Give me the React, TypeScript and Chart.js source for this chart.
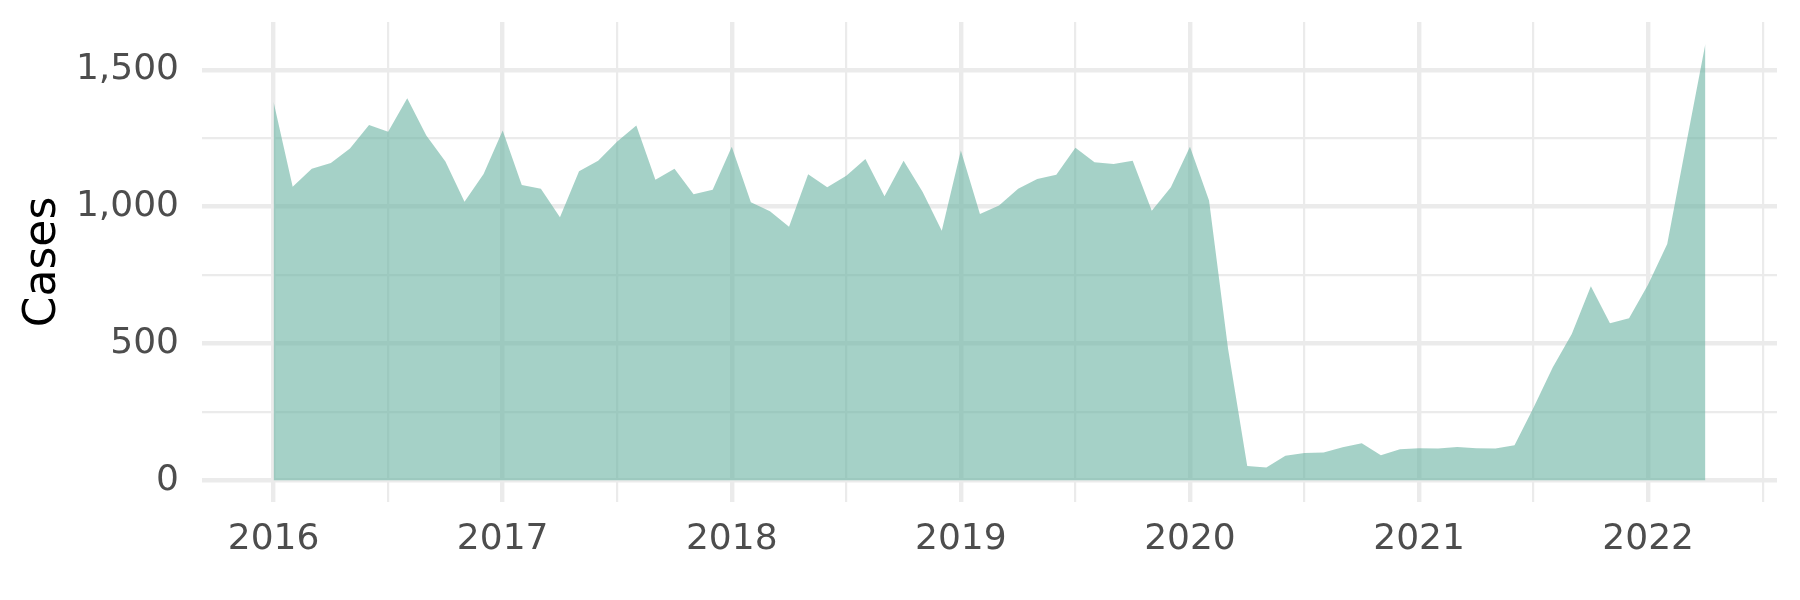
import React, { useEffect, useRef } from "react";
import { Chart, registerables } from "chart.js";

Chart.register(...registerables);

// Monthly observations, Jan 2016 .. Apr 2022
const months = [
  "2016-01", "2016-02", "2016-03", "2016-04", "2016-05", "2016-06", "2016-07", "2016-08", "2016-09", "2016-10", "2016-11", "2016-12",
  "2017-01", "2017-02", "2017-03", "2017-04", "2017-05", "2017-06", "2017-07", "2017-08", "2017-09", "2017-10", "2017-11", "2017-12",
  "2018-01", "2018-02", "2018-03", "2018-04", "2018-05", "2018-06", "2018-07", "2018-08", "2018-09", "2018-10", "2018-11", "2018-12",
  "2019-01", "2019-02", "2019-03", "2019-04", "2019-05", "2019-06", "2019-07", "2019-08", "2019-09", "2019-10", "2019-11", "2019-12",
  "2020-01", "2020-02", "2020-03", "2020-04", "2020-05", "2020-06", "2020-07", "2020-08", "2020-09", "2020-10", "2020-11", "2020-12",
  "2021-01", "2021-02", "2021-03", "2021-04", "2021-05", "2021-06", "2021-07", "2021-08", "2021-09", "2021-10", "2021-11", "2021-12",
  "2022-01", "2022-02", "2022-03", "2022-04",
];

const cases = [
  1382, 1073, 1138, 1159, 1212, 1298, 1274, 1396, 1260, 1165, 1018, 1119,
  1278, 1079, 1065, 961, 1129, 1168, 1238, 1296, 1098, 1138, 1045, 1062,
  1219, 1016, 983, 926, 1118, 1071, 1113, 1174, 1038, 1168, 1053, 912,
  1205, 973, 1004, 1065, 1101, 1116, 1215, 1162, 1156, 1168, 985, 1071,
  1219, 1022, 479, 52, 46, 89, 99, 101, 120, 135, 91, 113,
  117, 116, 121, 117, 116, 128, 266, 412, 534, 709, 574, 592,
  715, 863, 1232, 1595,
];

const yearLabels = ["2016", "2017", "2018", "2019", "2020", "2021", "2022"];
const xGridMonths = [0, 6, 12, 18, 24, 30, 36, 42, 48, 54, 60, 66, 72, 78];
const yGridValues = [0, 250, 500, 750, 1000, 1250, 1500];

const FONT = "'DejaVu Sans', 'Liberation Sans', sans-serif";
const TICK_COLOR = "#4d4d4d";
const GRID_COLOR = "#ebebeb";

export default function App() {
  const ref = useRef<HTMLCanvasElement | null>(null);

  useEffect(() => {
    if (!ref.current) return;
    const n = months.length;
    const xPad = (n - 1) * 0.05;
    const yMax = Math.max(...cases);
    const yPad = yMax * 0.05;

    const chart = new Chart(ref.current, {
      type: "line",
      data: {
        datasets: [
          {
            label: "Cases",
            data: cases.map((v, i) => ({ x: i, y: v })),
            fill: "origin",
            backgroundColor: "rgba(105,179,162,0.6)",
            borderColor: "rgba(0,0,0,0)",
            borderWidth: 0,
            pointRadius: 0,
            pointHoverRadius: 0,
            tension: 0,
          },
        ],
      },
      options: {
        responsive: false,
        animation: false,
        devicePixelRatio: 1,
        layout: { padding: { top: 22, right: 23, left: 0, bottom: 0 } },
        plugins: {
          legend: { display: false },
          tooltip: { enabled: false },
        },
        scales: {
          x: {
            type: "linear",
            min: -xPad,
            max: n - 1 + xPad,
            afterBuildTicks: (s: any) => {
              s.ticks = xGridMonths.map((v) => ({ value: v }));
            },
            afterFit: (s: any) => {
              s.height = 98;
              s.paddingLeft = 0;
              s.paddingRight = 0;
              s.paddingTop = 0;
              s.paddingBottom = 0;
            },
            border: { display: false },
            grid: {
              color: GRID_COLOR,
              drawTicks: false,
              lineWidth: (ctx: any) => (ctx.tick && ctx.tick.value % 12 === 0 ? 4.4 : 2.2),
            },
            ticks: {
              autoSkip: false,
              maxRotation: 0,
              padding: 16,
              color: TICK_COLOR,
              font: { family: FONT, size: 36 },
              callback: (v: any) => (Number(v) % 12 === 0 ? yearLabels[Number(v) / 12] ?? "" : ""),
            },
          },
          y: {
            type: "linear",
            min: -yPad,
            max: yMax + yPad,
            afterBuildTicks: (s: any) => {
              s.ticks = yGridValues.map((v) => ({ value: v }));
            },
            afterFit: (s: any) => {
              s.width = 202;
              s.paddingLeft = 0;
              s.paddingRight = 0;
              s.paddingTop = 0;
              s.paddingBottom = 0;
            },
            border: { display: false },
            grid: {
              color: GRID_COLOR,
              drawTicks: false,
              lineWidth: (ctx: any) => (ctx.tick && ctx.tick.value % 500 === 0 ? 4.4 : 2.2),
            },
            ticks: {
              autoSkip: false,
              padding: 23,
              color: TICK_COLOR,
              font: { family: FONT, size: 36 },
              callback: (v: any) => (Number(v) % 500 === 0 ? Number(v).toLocaleString("en-US") : ""),
            },
            title: {
              display: true,
              text: "Cases",
              color: "#000000",
              font: { family: FONT, size: 44 },
              padding: { top: 17, bottom: 0 },
            },
          },
        },
      },
    });
    return () => chart.destroy();
  }, []);

  return (
    <div style={{ position: "absolute", left: 0, top: 0, width: 1800, height: 600, background: "#ffffff" }}>
      <canvas ref={ref} width={1800} height={600} style={{ width: 1800, height: 600, display: "block" }} />
    </div>
  );
}
